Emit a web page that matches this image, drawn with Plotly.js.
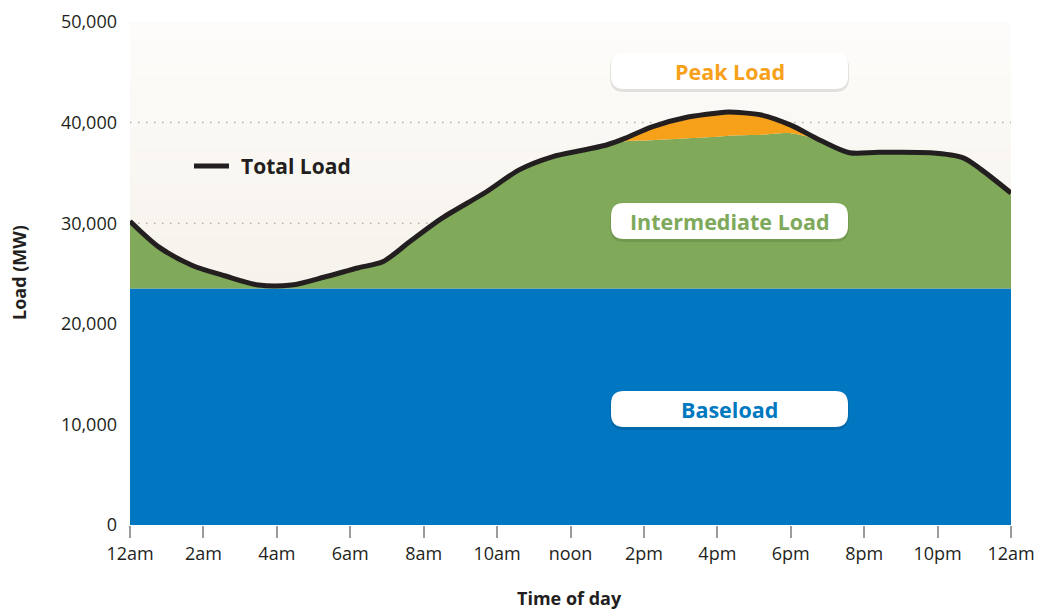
<!DOCTYPE html>
<html>
<head>
<meta charset="utf-8">
<script src="https://cdn.plot.ly/plotly-3.0.1.min.js"></script>
<style>
  html, body { margin: 0; padding: 0; background: #ffffff; }
  #chart { width: 1038px; height: 609px; }
</style>
</head>
<body>
<div id="chart"></div>
<script>
// ---- Data ----
const hours = [0, 0.8, 1.7, 2.6, 3.5, 4.4, 5.3, 6.2, 6.9, 7.6, 8.5, 9.7, 10.6, 11.5, 12.4, 13, 13.5, 14.2, 15.2, 16, 16.3, 17.2, 18, 18.8, 19.6, 20.4, 21.8, 22.7, 23.2, 24];
const totalLoad = [30200, 27600, 25800, 24750, 23850, 23850, 24650, 25550, 26200, 28100, 30500, 33100, 35300, 36600, 37300, 37800, 38450, 39550, 40550, 40950, 41050, 40750, 39750, 38250, 37000, 37050, 37000, 36500, 35300, 33000];
// top of the intermediate (green) band; below total only during the afternoon peak
const intermediateTop = [30200, 27600, 25800, 24750, 23850, 23850, 24650, 25550, 26200, 28100, 30500, 33100, 35300, 36600, 37300, 37800, 38150, 38250, 38450, 38600, 38700, 38800, 38950, 38250, 37000, 37050, 37000, 36500, 35300, 33000];
const baseload = [23500, 23500, 23500, 23500, 23500, 23500, 23500, 23500, 23500, 23500, 23500, 23500, 23500, 23500, 23500, 23500, 23500, 23500, 23500, 23500, 23500, 23500, 23500, 23500, 23500, 23500, 23500, 23500, 23500, 23500];

const xTickVals = [0, 2, 4, 6, 8, 10, 12, 14, 16, 18, 20, 22, 24];
const xTickText = ['12am', '2am', '4am', '6am', '8am', '10am', 'noon', '2pm', '4pm', '6pm', '8pm', '10pm', '12am'];
const yTickVals = [0, 10000, 20000, 30000, 40000, 50000];

const bandLabels = ['Peak Load', 'Intermediate Load', 'Baseload'];
const bandColors = ['#f7a11a', '#7ea95a', '#0079c1'];
const xTitle = 'Time of day';
const yTitle = 'Load (MW)';

// ---- Style ----
const FONT = 'Open Sans, Noto Sans, sans-serif';
const INK = '#231f20';

const traces = [
  {
    x: hours, y: baseload, type: 'scatter', mode: 'lines',
    line: { width: 0, color: '#0077c0', shape: 'spline' },
    fill: 'tozeroy', fillcolor: '#0077c0', hoverinfo: 'skip', showlegend: false
  },
  {
    x: hours, y: intermediateTop, type: 'scatter', mode: 'lines',
    line: { width: 0, color: '#80aa5a', shape: 'spline', smoothing: 0.8 },
    fill: 'tonexty', fillcolor: '#80aa5a', hoverinfo: 'skip', showlegend: false
  },
  {
    x: hours, y: totalLoad, type: 'scatter', mode: 'lines', name: 'Total Load',
    line: { width: 5, color: INK, shape: 'spline', smoothing: 0.8 },
    fill: 'tonexty', fillcolor: '#f7a11a', showlegend: false
  }
];

// pixel -> data helpers for decorative layout pieces
const L = 130, R = 1011, T = 22, B = 525;
const px2x = p => (p - L) / (R - L) * 24;
const px2y = p => (B - p) / (B - T) * 50000;

function roundRect(x0, y0, x1, y1, r) {
  const X = px2x, Y = px2y;
  return 'M' + X(x0 + r) + ',' + Y(y0) +
    ' L' + X(x1 - r) + ',' + Y(y0) +
    ' Q' + X(x1) + ',' + Y(y0) + ' ' + X(x1) + ',' + Y(y0 + r) +
    ' L' + X(x1) + ',' + Y(y1 - r) +
    ' Q' + X(x1) + ',' + Y(y1) + ' ' + X(x1 - r) + ',' + Y(y1) +
    ' L' + X(x0 + r) + ',' + Y(y1) +
    ' Q' + X(x0) + ',' + Y(y1) + ' ' + X(x0) + ',' + Y(y1 - r) +
    ' L' + X(x0) + ',' + Y(y0 + r) +
    ' Q' + X(x0) + ',' + Y(y0) + ' ' + X(x0 + r) + ',' + Y(y0) + ' Z';
}

const shapes = [];
// background gradient (white at top to warm beige lower down)
const nBands = 16;
for (let i = 0; i < nBands; i++) {
  const t = i / (nBands - 1);
  const r = Math.round(253 + (246 - 253) * t);
  const g = Math.round(252 + (242 - 252) * t);
  const b = Math.round(250 + (235 - 250) * t);
  const y1 = 50000 - i * (50000 - 22000) / nBands;
  const y0 = 50000 - (i + 1) * (50000 - 22000) / nBands;
  shapes.push({ type: 'rect', xref: 'x', yref: 'y', x0: 0, x1: 24, y0: y0, y1: y1,
    fillcolor: 'rgb(' + r + ',' + g + ',' + b + ')', line: { width: 0 }, layer: 'below' });
}
// dotted gridlines
[30000, 40000].forEach(v => shapes.push({
  type: 'line', xref: 'x', yref: 'y', x0: 0, x1: 24, y0: v, y1: v,
  line: { color: '#b5b2ad', width: 1.5, dash: '1.5px,6.5px' }, layer: 'below'
}));

// label boxes
const boxes = [[611, 53, 848, 89], [611, 203, 848, 239], [611, 391, 848, 427]];
const annotations = [];
boxes.forEach((bx, i) => {
  shapes.push({ type: 'path', xref: 'x', yref: 'y', path: roundRect(bx[0] - 1, bx[1] + 1, bx[2] + 1, bx[3] + 3, 14),
    fillcolor: 'rgba(0,0,0,0.10)', line: { width: 0 }, layer: 'above' });
  shapes.push({ type: 'path', xref: 'x', yref: 'y', path: roundRect(bx[0], bx[1], bx[2], bx[3], 13),
    fillcolor: '#ffffff', line: { width: 0 }, layer: 'above' });
  annotations.push({
    xref: 'x', yref: 'y', x: px2x((bx[0] + bx[2]) / 2), y: px2y((bx[1] + bx[3]) / 2),
    text: '<b>' + bandLabels[i] + '</b>', showarrow: false,
    font: { family: FONT, size: 21.5, color: bandColors[i] }, xanchor: 'center', yanchor: 'middle'
  });
});

// Total Load key
shapes.push({ type: 'line', xref: 'x', yref: 'y', x0: px2x(194), x1: px2x(229), y0: px2y(166), y1: px2y(166),
  line: { color: INK, width: 5 }, layer: 'above' });
annotations.push({
  xref: 'x', yref: 'y', x: px2x(239), y: px2y(166), text: '<b>Total Load</b>', showarrow: false,
  font: { family: FONT, size: 21, color: INK }, xanchor: 'left', yanchor: 'middle'
});

// axis titles
annotations.push({
  xref: 'paper', yref: 'paper', x: (569 - L) / (R - L), y: (B - 598) / (B - T),
  text: '<b>' + xTitle + '</b>', showarrow: false, xanchor: 'center', yanchor: 'middle',
  font: { family: FONT, size: 18, color: INK }
});
annotations.push({
  xref: 'paper', yref: 'paper', x: (19 - L) / (R - L), y: (B - 273) / (B - T),
  text: '<b>' + yTitle + '</b>', showarrow: false, xanchor: 'center', yanchor: 'middle', textangle: -90,
  font: { family: FONT, size: 18, color: INK }
});

const layout = {
  width: 1038, height: 609,
  margin: { l: L, r: 1038 - R, t: T, b: 609 - B },
  paper_bgcolor: '#ffffff', plot_bgcolor: '#ffffff',
  font: { family: FONT, color: INK, size: 16 },
  showlegend: false,
  xaxis: {
    range: [0, 24], tickvals: xTickVals, ticktext: xTickText,
    ticks: 'outside', ticklen: 12, tickwidth: 2, tickcolor: '#9c9c9c',
    showgrid: false, zeroline: false, showline: false, fixedrange: true,
    tickfont: { family: FONT, size: 18, color: INK },
    automargin: false
  },
  yaxis: {
    range: [0, 50000], tickvals: yTickVals, tickformat: ',',
    ticks: '', showgrid: false, zeroline: false, showline: false, fixedrange: true,
    ticklabelstandoff: 12,
    tickfont: { family: FONT, size: 18, color: INK },
    automargin: false
  },
  shapes: shapes,
  annotations: annotations
};

Plotly.newPlot('chart', traces, layout, { displayModeBar: false, staticPlot: true });
</script>
</body>
</html>
